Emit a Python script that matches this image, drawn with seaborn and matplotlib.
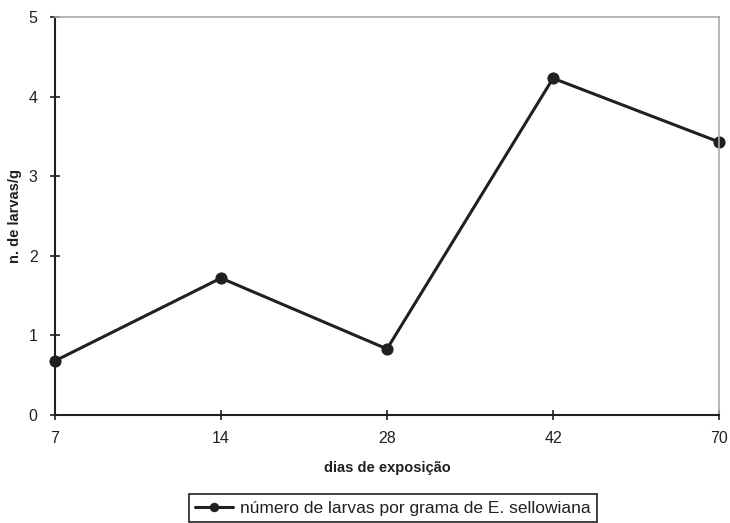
import matplotlib
matplotlib.use("Agg")
import matplotlib.pyplot as plt
import seaborn as sns
import pandas as pd

# Larvae per gram over exposure days
dias = ["7", "14", "28", "42", "70"]
larvas = [0.68, 1.72, 0.83, 4.23, 3.43]
serie = "número de larvas por grama de E. sellowiana"

df = pd.DataFrame({"dias": dias, "larvas": larvas})

sns.set_theme(style="white")
plt.rcParams["font.family"] = ["Liberation Sans", "DejaVu Sans"]

fig = plt.figure(figsize=(7.3, 5.23), dpi=100)
ax = fig.add_axes([0.0753, 0.2065, 0.9097, 0.761])

sns.lineplot(data=df, x="dias", y="larvas", ax=ax, color="#231f20",
             linewidth=2.2, marker="o", markersize=8, markeredgecolor="#231f20",
             label=serie, sort=False, clip_on=False)

ax.set_xlim(0, len(dias) - 1)
ax.set_ylim(0, 5)
ax.set_yticks(range(0, 6))
ax.set_xticks(range(len(dias)))
ax.set_xticklabels(dias)

ax.tick_params(axis="both", direction="inout", length=7, width=1.2,
               colors="#231f20", labelsize=11.5, pad=8,
               bottom=True, left=True)
ax.tick_params(axis="y", pad=9)
for side in ("left", "bottom"):
    ax.spines[side].set_color("#231f20")
    ax.spines[side].set_linewidth(1.5)
for side in ("top", "right"):
    ax.spines[side].set_color("#aaaaaa")
    ax.spines[side].set_linewidth(1.2)

ax.set_xlabel("dias de exposição", fontsize=10.5, fontweight="bold",
              color="#231f20", labelpad=11)
ax.set_ylabel("n. de larvas/g", fontsize=10.5, fontweight="bold",
              color="#231f20", labelpad=5)

leg = ax.legend(loc="center", bbox_to_anchor=(393 / 730, 1 - 508 / 523),
                bbox_transform=fig.transFigure, frameon=True, fancybox=False,
                fontsize=12.5, handlelength=2.2, handletextpad=0.4,
                borderpad=0.35, framealpha=1)
leg.get_frame().set_edgecolor("#231f20")
leg.get_frame().set_linewidth(1.2)
for t in leg.get_texts():
    t.set_color("#231f20")
for h in leg.legend_handles:
    h.set_markersize(6)

fig.savefig("out.png", dpi=100)
